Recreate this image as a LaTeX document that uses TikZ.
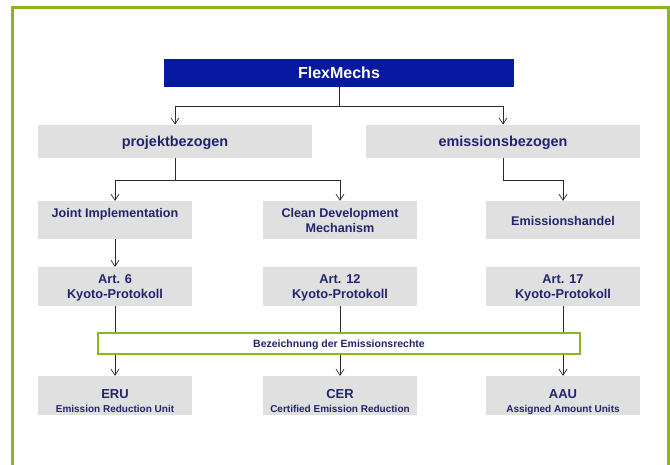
\documentclass[tikz,border=0pt]{standalone}
\usepackage{fontspec}
\setmainfont{Liberation Sans}
\usetikzlibrary{arrows.meta}
\definecolor{navy}{HTML}{22246E}
\definecolor{boxgray}{HTML}{E0E0E0}
\definecolor{flexblue}{HTML}{0619A0}
\definecolor{framegreen}{HTML}{8DB51C}
\definecolor{linegray}{HTML}{2A2A2A}
\tikzset{
  gbox/.style={fill=boxgray, draw=none, inner sep=0pt, minimum width=154pt, minimum height=39pt},
  txt/.style={text=navy, anchor=base, inner sep=0pt, font=\bfseries\fontsize{#1}{#1}\selectfont},
  conn/.style={draw=linegray, line width=0.9pt},
  arr/.style={conn, -{Straight Barb[length=6pt,width=8pt,line width=0.7pt]}},
}
\begin{document}
\begin{tikzpicture}[x=1pt,y=-1pt]
\useasboundingbox (0,0) rectangle (670,465);
\clip (0,0) rectangle (670,465);
\draw[framegreen, line width=3pt] (12.5,475) -- (12.5,7.5) -- (668.5,7.5) -- (668.5,475);

% top
\node[fill=flexblue, minimum width=350pt, minimum height=28pt, inner sep=0pt] (flex) at (339,73) {};
\node[txt=16, text=white] (flext) at (339,79) {FlexMechs};

% level 2
\node[gbox, minimum width=274pt, minimum height=33pt] (proj) at (175,141.3) {};
\node[txt=14.4] (projt) at (175,146.5) {projektbezogen};
\node[gbox, minimum width=274pt, minimum height=33pt] (emis) at (503,141.3) {};
\node[txt=14.4] (emist) at (503,146.5) {emissionsbezogen};

% level 3
\node[gbox, minimum height=38pt] (ji) at (115,220) {};
\node[txt=12.6] (jit) at (115,217.2) {Joint Implementation};
\node[gbox, minimum height=38pt] (cdm) at (340,220) {};
\node[txt=12.6] (cdmt1) at (340,217.2) {Clean Development};
\node[txt=12.6] (cdmt2) at (340,232.8) {Mechanism};
\node[gbox, minimum height=38pt] (eh) at (563,220) {};
\node[txt=12.6] (eht) at (563,225.5) {Emissionshandel};

% level 4
\node[gbox] (a6) at (115,286.5) {};
\node[txt=12.8] (a6t1) at (115,284) {Art. 6};
\node[txt=12.8] (a6t2) at (115,298.3) {Kyoto-Protokoll};
\node[gbox] (a12) at (340,286.5) {};
\node[txt=12.8] (a12t1) at (340,284) {Art. 12};
\node[txt=12.8] (a12t2) at (340,298.3) {Kyoto-Protokoll};
\node[gbox] (a17) at (563,286.5) {};
\node[txt=12.8] (a17t1) at (563,284) {Art. 17};
\node[txt=12.8] (a17t2) at (563,298.3) {Kyoto-Protokoll};

% level 5
\node[gbox] (eru) at (115,395.5) {};
\node[txt=13] (erut1) at (115,398.3) {ERU};
\node[txt=10] (erut2) at (115,412) {Emission Reduction Unit};
\node[gbox] (cer) at (340,395.5) {};
\node[txt=13] (cert1) at (340,398.3) {CER};
\node[txt=10] (cert2) at (340,412) {Certified Emission Reduction};
\node[gbox] (aau) at (563,395.5) {};
\node[txt=13] (aaut1) at (563,398.3) {AAU};
\node[txt=10] (aaut2) at (563,412) {Assigned Amount Units};

% connectors
\coordinate (j1) at (339,106);
\draw[conn] (flex.south) -- (j1);
\draw[arr] (j1) -| (proj.north);
\draw[arr] (j1) -| (emis.north);

\coordinate (j2) at (175,180);
\draw[conn] (proj.south) -- (j2);
\draw[arr] (j2) -| (ji.north);
\draw[arr] (j2) -| (cdm.north);
\coordinate (j3) at (503,180);
\draw[arr] (emis.south) -- (j3) -| (eh.north);

\draw[arr] (ji.south) -- (a6.north);

\draw[arr] (a6.south) -- (eru.north);
\draw[arr] (a12.south) -- (cer.north);
\draw[arr] (a17.south) -- (aau.north);

\node[draw=framegreen, line width=1.6pt, fill=white, minimum width=482pt, minimum height=21pt, inner sep=0pt] (bez) at (339,343.3) {};
\node[txt=10.5] (bezt) at (339,347.3) {Bezeichnung der Emissionsrechte};
\end{tikzpicture}
\end{document}
